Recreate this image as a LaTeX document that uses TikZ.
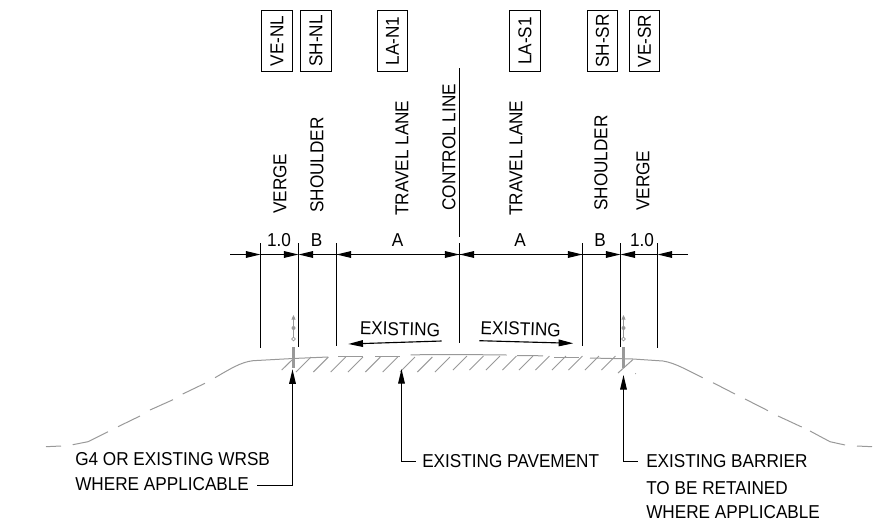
\documentclass[tikz,border=0pt]{standalone}
\usepackage{fontspec}
\setmainfont[FakeStretch=0.92]{Liberation Sans}
\usetikzlibrary{arrows.meta}
\definecolor{grndgray}{gray}{0.6}
\tikzset{
  dimtip/.style={-{Triangle[length=11pt,width=5pt]}},
  dimline/.style={line width=0.85pt},
  grnd/.style={grndgray, line width=0.75pt},
  txt/.style={font=\fontsize{14pt}{15pt}\selectfont, inner sep=0pt},
  vtxt/.style={txt, rotate=90},
  tagbox/.style={vtxt, draw, line width=0.85pt, minimum width=45.5pt, minimum height=23pt},
}
\begin{document}
\begin{tikzpicture}[x=0.75pt,y=-0.75pt]
\useasboundingbox (0,0) rectangle (890,529);
% labels on top
\node[tagbox] (venl) at (277,41) {VE-NL};
\node[tagbox] (shnl) at (316,41) {SH-NL};
\node[tagbox] (lan) at (392.5,41) {LA-N1};
\node[tagbox] (las) at (525,41) {LA-S1};
\node[tagbox] (shsr) at (602.5,41) {SH-SR};
\node[tagbox] (vesr) at (644.5,41) {VE-SR};
\node[vtxt,anchor=west] (verl) at (280,214) {VERGE};
\node[vtxt,anchor=west] (shl) at (317,213) {SHOULDER};
\node[vtxt,anchor=west] (tll) at (402,216) {TRAVEL LANE};
\node[vtxt,anchor=west] (ctl) at (449,211) {CONTROL LINE};
\node[vtxt,anchor=west] (tlr) at (516,216) {TRAVEL LANE};
\node[vtxt,anchor=west] (shr) at (601,211) {SHOULDER};
\node[vtxt,anchor=west] (verr) at (643,211) {VERGE};

% extension lines
\coordinate (l1) at (260.5,243);
\coordinate (l2) at (298.5,243);
\coordinate (l3) at (336.5,243);
\coordinate (cc) at (459.5,243);
\coordinate (r3) at (582.5,243);
\coordinate (r2) at (620.5,243);
\coordinate (r1) at (657.5,243);
\draw[dimline] (l1)--(260.5,348);
\draw[dimline] (l2)--(298.5,347);
\draw[dimline] (l3)--(336.5,346);
\draw[line width=1.2pt] (cc)--(459.5,343);
\draw[line width=1.2pt] (459.5,68)--(459.5,237);
\draw[dimline] (r3)--(582.5,346);
\draw[dimline] (r2)--(620.5,347);
\draw[dimline] (r1)--(657.5,348);

% dimension line
\coordinate (dl) at (230,254.5);
\coordinate (d1) at (260.5,254.5);
\coordinate (d2) at (298.5,254.5);
\coordinate (d3) at (336.5,254.5);
\coordinate (dc) at (459.5,254.5);
\coordinate (d4) at (582.5,254.5);
\coordinate (d5) at (620.5,254.5);
\coordinate (d6) at (657.5,254.5);
\coordinate (dr) at (688,254.5);
\draw[dimline,dimtip] (dl)--(d1);
\draw[dimline,dimtip] (d1)--(d2);
\draw[dimline,dimtip] (d3)--(d2);
\draw[dimline,dimtip] (dc)--(d3);
\draw[dimline,dimtip] (d3)--(dc);
\draw[dimline,dimtip] (d4)--(dc);
\draw[dimline,dimtip] (dc)--(d4);
\draw[dimline,dimtip] (d4)--(d5);
\draw[dimline,dimtip] (d6)--(d5);
\draw[dimline,dimtip] (dr)--(d6);
\node[txt] (v1) at (279,240) {1.0};
\node[txt] (bl) at (316.5,240) {B};
\node[txt] (al) at (397.5,240) {A};
\node[txt] (ar) at (520,240) {A};
\node[txt] (br) at (600,240) {B};
\node[txt] (v2) at (642,240) {1.0};

% existing arrows
\node[txt,rotate=-1.5] (exl) at (400,329) {EXISTING};
\node[txt,rotate=-2] (exr) at (520.7,329) {EXISTING};
\coordinate (e1) at (441.7,341);
\coordinate (e2) at (348.3,344);
\coordinate (e3) at (479.3,340.7);
\coordinate (e4) at (573.3,343.3);
\draw[dimline,dimtip] (e1)--(e2);
\draw[dimline,dimtip] (e3)--(e4);

% road surface
\draw[grnd] (215,377.7) .. controls (230,369) and (241,362) .. (253,360.7)--(293,358.5)--(328,357);
\draw[grnd] (338,356.7)--(363.3,356.7);
\draw[grnd] (375,356)--(399.7,356);
\draw[grnd] (410.7,354.8)--(460,354.5)--(506.7,355);
\draw[grnd] (517,355.5)--(543,355.8);
\draw[grnd] (554,357)--(579,357);
\draw[grnd] (590,358)--(633,359)--(663,361) .. controls (675,363) and (685,369) .. (702.7,377.7);
% side slopes
\draw[grnd] (46,446.7)--(61,446);
\draw[grnd] (72.7,444.7)--(88,441.7)--(108,431.7);
\draw[grnd] (118,426.7)--(140,416);
\draw[grnd] (150,410)--(173,399.7);
\draw[grnd] (182.7,394)--(205,383.3);
\draw[grnd] (713,382.7)--(735,394);
\draw[grnd] (745,399)--(768,410.7);
\draw[grnd] (778,416)--(801.7,427);
\draw[grnd] (810,431)--(830,441.7)--(845,445);
\draw[grnd] (857,446)--(872,446.7);
% hatching
\foreach \x in {296,313.3,330.7,348,365.3,382.7,400,417.3,435} {
  \draw[grnd] (\x,372)--++(15,-15);
}
\draw[grnd] (281.7,370)--(292,360);
\foreach \x in {453,469.5,486,502.5,519,535.5,552,568.5,585,601.5} {
  \draw[grnd] (\x,370)--++(14,-14);
}
\draw[grnd] (618,373)--(633,359.5);

% barriers
\foreach \x/\n in {293.5/bl,623.5/br} {
  \draw[grndgray,line width=1.7pt] (\x,347)--(\x,368);
  \draw[grndgray,line width=0.8pt,-{Triangle[length=3.5pt,width=3pt]}] (\x,337)--(\x,315);
  \fill[grndgray] (\x,328) circle (2);
  \draw[grndgray,line width=0.5pt,fill=white] (\x,339) circle (1.8);
}
\fill[gray] (635.7,373.7) circle (0.5);

% leaders
\node[txt,anchor=west] (g4a) at (75,459) {G4 OR EXISTING WRSB};
\node[txt,anchor=west] (g4b) at (75,484) {WHERE APPLICABLE};
\node[txt,anchor=west] (pav) at (422,461.5) {EXISTING PAVEMENT};
\node[txt,anchor=west] (bar1) at (646,461.5) {EXISTING BARRIER};
\node[txt,anchor=west] (bar2) at (646,488) {TO BE RETAINED};
\node[txt,anchor=west] (bar3) at (646,512) {WHERE APPLICABLE};
\coordinate (t1) at (292.5,369.3);
\coordinate (t2) at (401.5,369);
\coordinate (t3) at (623.5,375);
\coordinate (k1) at (292.5,485.5);
\coordinate (k2) at (401.5,461.5);
\coordinate (k3) at (623.5,461.5);
\draw[dimline,dimtip] (k1)--(t1);
\draw[dimline] (k1)--(256.7,485.5);
\draw[dimline,dimtip] (k2)--(t2);
\draw[dimline] (k2)--(416,461.5);
\draw[dimline,dimtip] (k3)--(t3);
\draw[dimline] (k3)--(638,461.5);
\end{tikzpicture}
\end{document}
